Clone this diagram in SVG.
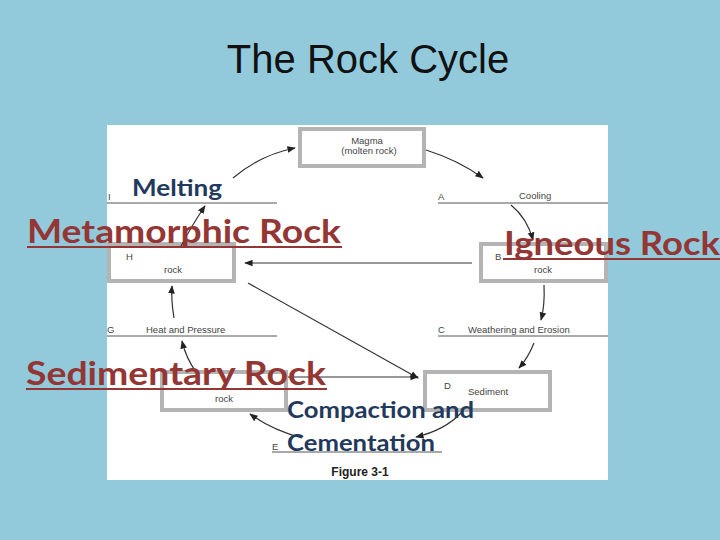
<svg xmlns="http://www.w3.org/2000/svg" width="720" height="540" viewBox="0 0 720 540">
<defs>
<marker id="ah" viewBox="0 0 10 10" refX="9" refY="5" markerWidth="7" markerHeight="7" orient="auto"><path d="M0,1 L10,5 L0,9 z" fill="#222"/></marker>
<style>
.box{fill:#fff;stroke:#b4b4b4;stroke-width:4}
.ln{stroke:#555;stroke-width:1}
.s{font-family:"Liberation Sans",Arial,sans-serif;font-size:9.5px;fill:#444}
.c{stroke:#333;stroke-width:1.2;fill:none;marker-end:url(#ah)}
.ov{font-family:Lato,"Open Sans",sans-serif;font-size:22px;font-weight:bold;fill:#1f3a5c}
.big{font-family:Lato,"Open Sans",sans-serif;font-size:32px;font-weight:bold;fill:#943634}
.ul{stroke:#943634;stroke-width:2}
</style>
</defs>
<rect width="720" height="540" fill="#92cadc"/>
<text x="368" y="73" text-anchor="middle" font-family="Liberation Sans,Arial,sans-serif" font-size="40" fill="#111">The Rock Cycle</text>
<rect x="107" y="125" width="501" height="355" fill="#fff"/>
<g id="lines">
<line class="ln" x1="107" y1="203" x2="277" y2="203"/>
<line class="ln" x1="438" y1="203" x2="608" y2="203"/>
<line class="ln" x1="107" y1="336" x2="277" y2="336"/>
<line class="ln" x1="438" y1="336" x2="608" y2="336"/>
<line class="ln" x1="272" y1="452" x2="442" y2="452"/>
<text class="s" x="108" y="200">I</text>
<text class="s" x="438" y="200">A</text>
<text class="s" x="519" y="199">Cooling</text>
<text class="s" x="107" y="333">G</text>
<text class="s" x="146" y="333">Heat and Pressure</text>
<text class="s" x="438" y="333">C</text>
<text class="s" x="468" y="333">Weathering and Erosion</text>
<text class="s" x="272" y="450">E</text>
</g>
<g id="magma"><rect class="box" x="300" y="129" width="124" height="37"/>
<text class="s" x="367" y="144" text-anchor="middle">Magma</text><text class="s" x="369" y="154" text-anchor="middle">(molten rock)</text></g>
<g id="h"><rect class="box" x="109" y="244" width="125" height="37"/>
<text class="s" x="126" y="260">H</text><text class="s" x="173" y="273" text-anchor="middle">rock</text></g>
<g id="b"><rect class="box" x="481" y="244" width="125" height="37"/>
<text class="s" x="495" y="260">B</text><text class="s" x="543" y="273" text-anchor="middle">rock</text></g>
<g id="d"><rect class="box" x="425" y="372" width="125" height="38"/>
<text class="s" x="444" y="389">D</text><text class="s" x="468" y="395">Sediment</text></g>
<g id="f"><rect class="box" x="162" y="372" width="124" height="38"/>
<text class="s" x="224" y="402" text-anchor="middle">rock</text></g>
<g id="connectors">
<path class="c" d="M233,178 Q260,155 295,148"/>
<path class="c" d="M426,150 Q458,160 483,178"/>
<path class="c" d="M511,205 Q527,218 533,240"/>
<path class="c" d="M544,285 Q545,305 541,320"/>
<path class="c" d="M534,343 Q528,358 519,368"/>
<path class="c" d="M461,413 Q445,430 416,437"/>
<path class="c" d="M302,438 Q272,430 250,414"/>
<path class="c" d="M196,372 Q186,358 182,341"/>
<path class="c" d="M174,318 Q171,300 172,286"/>
<path class="c" d="M180,248 Q192,225 205,206"/>
<path class="c" d="M472,263 L245,263"/>
<path class="c" d="M248,283 L418,378"/>
<path class="c" d="M288,377 L418,377"/>
</g>
<text x="360" y="476" text-anchor="middle" font-family="Liberation Sans,Arial,sans-serif" font-size="12" font-weight="bold" fill="#222">Figure 3-1</text>
<g id="overlay">
<text class="ov" x="132" y="196" textLength="90" lengthAdjust="spacingAndGlyphs">Melting</text>
<text class="big" x="27" y="243" textLength="314" lengthAdjust="spacingAndGlyphs">Metamorphic Rock</text>
<line class="ul" x1="27" y1="247" x2="342" y2="247"/>
<text class="big" x="504" y="255" textLength="216" lengthAdjust="spacingAndGlyphs">Igneous Rock</text>
<line class="ul" x1="503" y1="259" x2="720" y2="259"/>
<text class="big" x="26" y="385" textLength="300" lengthAdjust="spacingAndGlyphs">Sedimentary Rock</text>
<line class="ul" x1="26" y1="389" x2="327" y2="389"/>
<text class="ov" x="287" y="418" textLength="187" lengthAdjust="spacingAndGlyphs">Compaction and</text>
<text class="ov" x="287" y="451" textLength="148" lengthAdjust="spacingAndGlyphs">Cementation</text>
</g>
</svg>
